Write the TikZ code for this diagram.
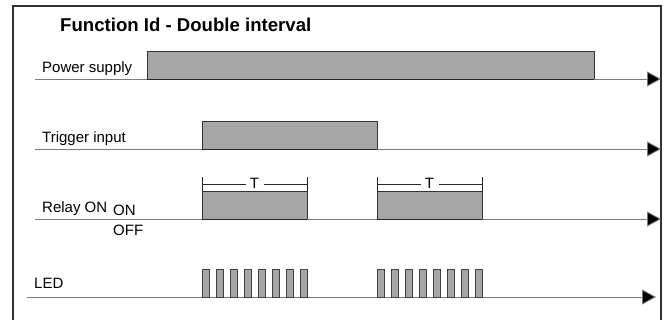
\documentclass[tikz,border=0pt]{standalone}
\usepackage{fontspec}
\setmainfont{Liberation Sans}
\usetikzlibrary{arrows.meta}
\definecolor{barfill}{HTML}{A6A6A6}
\definecolor{axisgray}{HTML}{7A7A7A}
\definecolor{framegray}{HTML}{333333}
\tikzset{
  axis/.style={draw=axisgray, line width=0.9pt, -{Triangle[length=14pt,width=15pt,fill=black]}},
  bar/.style={draw=black!80, fill=barfill, line width=0.9pt},
  pulse/.style={draw=black!75, fill=barfill, line width=0.8pt},
  lbl/.style={anchor=base west, inner sep=0pt, font=\fontsize{15}{17}\selectfont},
  tmark/.style={draw=black!85, line width=0.9pt},
}
\begin{document}
\begin{tikzpicture}[x=1pt,y=-1pt]
\useasboundingbox (0,0) rectangle (670,320);
% frame
\draw[framegray, line width=1.4pt] (13,321) -- (13,6) -- (661,6) -- (661,321);
% title
\node[anchor=base west, inner sep=0pt, font=\fontsize{18.6}{20}\selectfont\bfseries] (title) at (60,31.5) {Function Id - Double interval};
% labels
\node[lbl] (lps) at (42,73) {Power supply};
\node[lbl] (ltr) at (42,143) {Trigger input};
\node[lbl] (lre) at (42,213) {Relay ON};
\node[lbl] (lon) at (113,215.5) {ON};
\node[lbl] (loff) at (113,236) {OFF};
\node[lbl] (lled) at (34,289) {LED};
% bars
\draw[bar] (147,79) rectangle (594,51);
\draw[bar] (202,149) rectangle (377,121);
\draw[bar] (202,219) rectangle (307,191);
\draw[bar] (377,219) rectangle (482,191);
% axes
\coordinate (a1s) at (35,79);  \coordinate (a1e) at (661,79);
\coordinate (a2s) at (35,149); \coordinate (a2e) at (661,149);
\coordinate (a3s) at (35,219); \coordinate (a3e) at (661,219);
\coordinate (a4s) at (27,297); \coordinate (a4e) at (656,297);
\draw[axis] (a1s) -- (a1e);
\draw[axis] (a2s) -- (a2e);
\draw[axis] (a3s) -- (a3e);
\draw[axis] (a4s) -- (a4e);
\draw[black!85, line width=0.9pt] (147,79) -- (594,79) (202,149) -- (377,149) (202,219) -- (307,219) (377,219) -- (482,219);
% T brackets
\foreach \xa/\xb/\nm in {202/307/t1, 377/482/t2}{
  \pgfmathsetmacro{\xm}{(\xa+\xb)/2}
  \node[inner sep=0pt, font=\fontsize{15}{17}\selectfont] (\nm) at (\xm,183.5) {T};
  \draw[tmark] (\xa,177) -- (\xa,191) (\xb,177) -- (\xb,191);
  \draw[tmark] (\xa,184) -- (\xm-9,184) (\xm+9,184) -- (\xb,184);
}
% LED pulses
\foreach \xs in {202,377}{
  \foreach \k in {0,...,7}{
    \draw[pulse] (\xs+14*\k,297) rectangle (\xs+14*\k+7,269);
  }
}
\end{tikzpicture}
\end{document}
